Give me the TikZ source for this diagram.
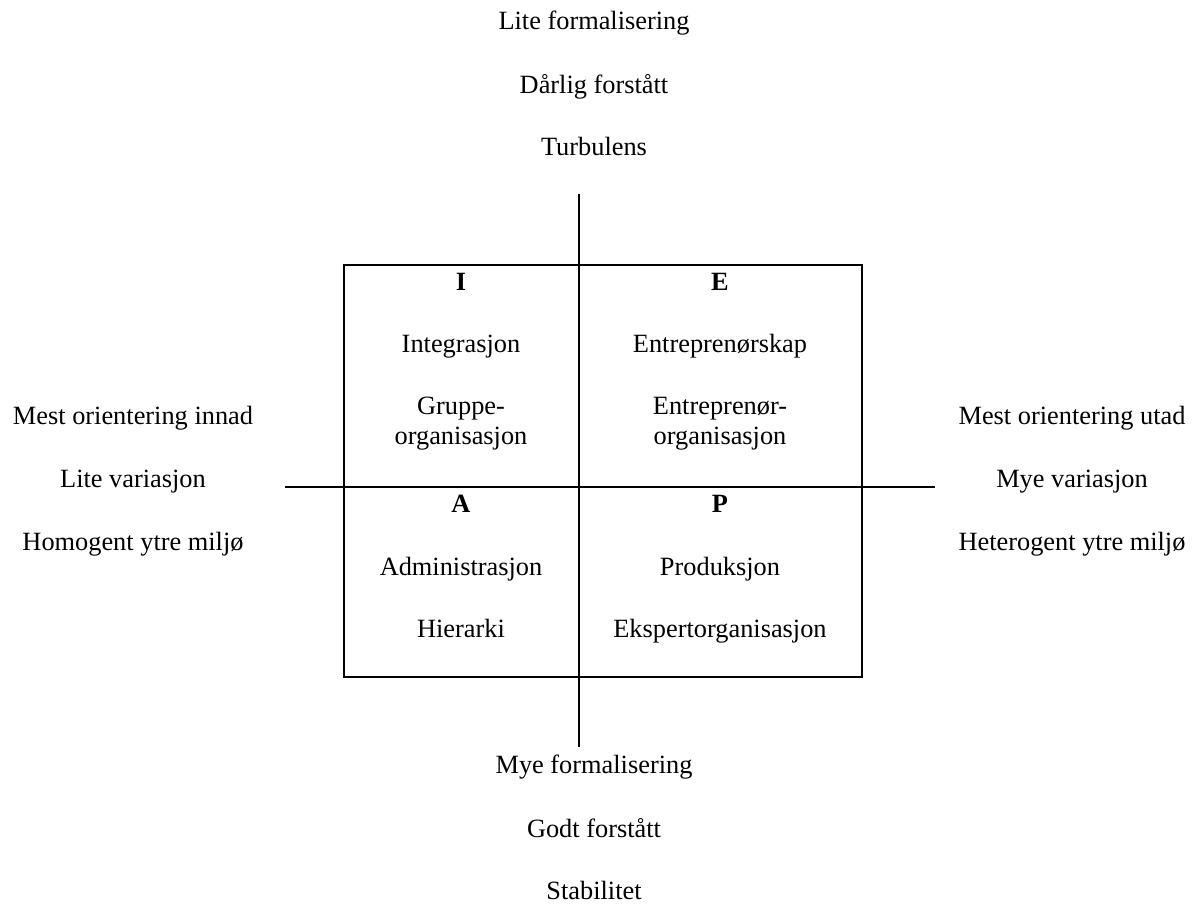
\documentclass[tikz,border=0pt]{standalone}
\usepackage{fontspec}
\setmainfont{Liberation Serif}
\usepackage{tikz}

\begin{document}
\begin{tikzpicture}[x=0.02cm,y=-0.02cm,line width=1.1pt,
    lbl/.style={anchor=base,inner sep=0pt,align=center},
    hd/.style={lbl,font=\bfseries}]
    \fontsize{15}{17}\selectfont
    \useasboundingbox (0,0) rectangle (1195,904);

    % axes and box
    \coordinate (top) at (579,194);
    \coordinate (bot) at (579,747);
    \coordinate (west) at (285,487);
    \coordinate (east) at (935,487);
    \coordinate (boxnw) at (344,265);
    \coordinate (boxse) at (862,677);
    \draw (top)--(bot);
    \draw (west)--(east);
    \draw (boxnw) rectangle (boxse);

    % top
    \node[lbl] (t1) at (594,29) {Lite formalisering};
    \node[lbl] (t2) at (594,93) {Dårlig forstått};
    \node[lbl] (t3) at (594,155) {Turbulens};

    % bottom
    \node[lbl] (b1) at (594,773) {Mye formalisering};
    \node[lbl] (b2) at (594,837) {Godt forstått};
    \node[lbl] (b3) at (594,899) {Stabilitet};

    % left
    \node[lbl] (l1) at (133,424) {Mest orientering innad};
    \node[lbl] (l2) at (133,487) {Lite variasjon};
    \node[lbl] (l3) at (133,550) {Homogent ytre miljø};

    % right
    \node[lbl] (r1) at (1072,424) {Mest orientering utad};
    \node[lbl] (r2) at (1072,487) {Mye variasjon};
    \node[lbl] (r3) at (1072,550) {Heterogent ytre miljø};

    % quadrants (two-line labels sit on their last line)
    \node[hd] (qi) at (461,290) {I};
    \node[lbl] (qi1) at (461,352) {Integrasjon};
    \node[lbl] (qi2) at (461,444) {Gruppe-\\organisasjon};

    \node[hd] (qe) at (720,290) {E};
    \node[lbl] (qe1) at (720,352) {Entreprenørskap};
    \node[lbl] (qe2) at (720,444) {Entreprenør-\\organisasjon};

    \node[hd] (qa) at (461,512) {A};
    \node[lbl] (qa1) at (461,575) {Administrasjon};
    \node[lbl] (qa2) at (461,637) {Hierarki};

    \node[hd] (qp) at (720,512) {P};
    \node[lbl] (qp1) at (720,575) {Produksjon};
    \node[lbl] (qp2) at (720,637) {Ekspertorganisasjon};
\end{tikzpicture}
\end{document}
